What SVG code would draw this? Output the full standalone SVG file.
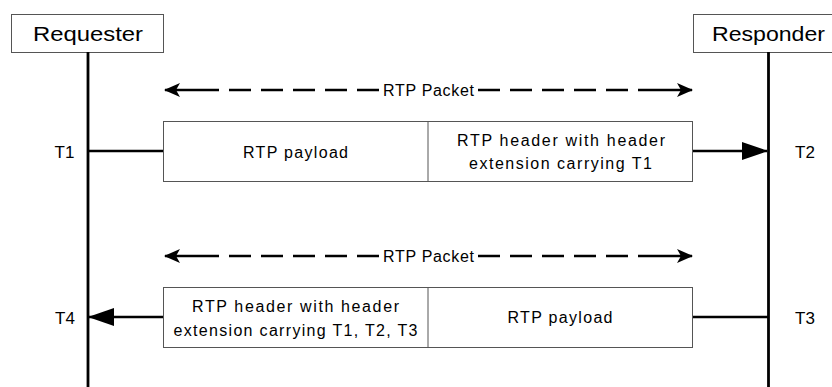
<svg xmlns="http://www.w3.org/2000/svg" width="832" height="387" viewBox="0 0 832 387">
<defs>
<style>
text{font-family:"Liberation Sans",Arial,sans-serif;fill:#000;}
.actor{fill:#fff;stroke:#555;stroke-width:1}
.actor-t{font-size:21px;text-anchor:middle}
.life{stroke:#000;stroke-width:2.8;fill:none}
.box{fill:#fff;stroke:#555;stroke-width:1}
.bt{font-size:16px;text-anchor:middle}
.tl{font-size:17px;text-anchor:middle}
.dash{stroke:#000;stroke-width:2.5;stroke-dasharray:22 10;fill:none}
.solid{stroke:#000;stroke-width:2.5;fill:none}
.pk{font-size:16px;text-anchor:middle}
</style>
<marker id="ahs" markerUnits="userSpaceOnUse" viewBox="0 0 16 16" markerWidth="16" markerHeight="16" refX="15" refY="8" orient="auto">
<path d="M0,1 L16,8 L0,15 L4,8 Z" fill="#000"/>
</marker>
<marker id="ahb" markerUnits="userSpaceOnUse" viewBox="0 0 26 18" markerWidth="26" markerHeight="18" refX="25" refY="9" orient="auto">
<path d="M0,0 L26,9 L0,18 Z" fill="#000"/>
</marker>
</defs>
<rect width="832" height="387" fill="#fff"/>

<g id="requester">
<rect class="actor" x="11.5" y="14.5" width="152" height="38"/>
<text class="actor-t" x="88" y="41" textLength="110" lengthAdjust="spacingAndGlyphs">Requester</text>
</g>
<g id="responder">
<rect class="actor" x="693.5" y="14.5" width="152" height="38"/>
<text class="actor-t" x="768.5" y="41" textLength="113" lengthAdjust="spacingAndGlyphs">Responder</text>
</g>

<g id="packet1">
<rect class="box" x="163.5" y="121.5" width="529" height="60"/>
<line x1="428" y1="121.5" x2="428" y2="181.5" stroke="#555" stroke-width="1"/>
<text class="bt" x="295.5" y="158" textLength="105" lengthAdjust="spacing">RTP payload</text>
<text class="bt" x="561" y="146" textLength="208" lengthAdjust="spacing">RTP header with header</text>
<text class="bt" x="560.5" y="169" textLength="183" lengthAdjust="spacing">extension carrying T1</text>
</g>
<g id="packet2">
<rect class="box" x="163.5" y="287.5" width="529" height="60"/>
<line x1="428" y1="287.5" x2="428" y2="347.5" stroke="#555" stroke-width="1"/>
<text class="bt" x="295.5" y="312" textLength="207" lengthAdjust="spacing">RTP header with header</text>
<text class="bt" x="295.5" y="336" textLength="244" lengthAdjust="spacing">extension carrying T1, T2, T3</text>
<text class="bt" x="560" y="323" textLength="105" lengthAdjust="spacing">RTP payload</text>
</g>

<g id="labels">
<text class="tl" x="64.5" y="158">T1</text>
<text class="tl" x="805" y="158">T2</text>
<text class="tl" x="805" y="324">T3</text>
<text class="tl" x="65" y="324">T4</text>
<text class="pk" x="428.5" y="96" textLength="91" lengthAdjust="spacing">RTP Packet</text>
<text class="pk" x="428.5" y="262" textLength="91" lengthAdjust="spacing">RTP Packet</text>
</g>

<g id="connectors">
<line class="life" x1="88" y1="52" x2="88" y2="387"/>
<line class="life" x1="768.5" y1="52" x2="768.5" y2="387"/>
<line class="solid" x1="88" y1="151" x2="163" y2="151"/>
<line class="solid" x1="693" y1="151" x2="767" y2="151" marker-end="url(#ahb)"/>
<line class="solid" x1="768" y1="317" x2="693" y2="317"/>
<line class="solid" x1="163" y1="317" x2="89" y2="317" marker-end="url(#ahb)"/>
<path class="dash" d="M197,90 L381,90"/>
<line class="solid" x1="197" y1="90" x2="165" y2="90" marker-end="url(#ahs)"/>
<path class="dash" d="M660,90 L476,90"/>
<line class="solid" x1="660" y1="90" x2="692" y2="90" marker-end="url(#ahs)"/>
<path class="dash" d="M197,256 L381,256"/>
<line class="solid" x1="197" y1="256" x2="165" y2="256" marker-end="url(#ahs)"/>
<path class="dash" d="M660,256 L476,256"/>
<line class="solid" x1="660" y1="256" x2="692" y2="256" marker-end="url(#ahs)"/>
</g>
</svg>
